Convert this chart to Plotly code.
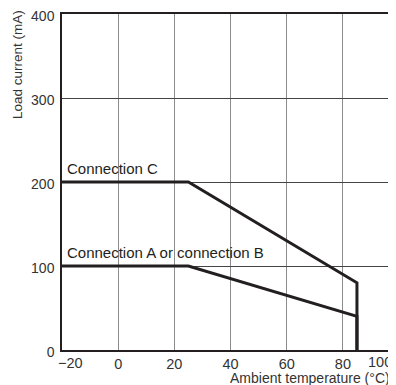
import plotly.graph_objects as go

# Data
temp_c = [-20, 25, 85, 85]
load_c = [200, 200, 80, 0]
temp_ab = [-20, 25, 85, 85]
load_ab = [100, 100, 40, 0]
x_ticks = [-20, 0, 20, 40, 60, 80]
x_ticktext = ["", "0", "20", "40", "60", "80"]
y_ticks = [0, 100, 200, 300, 400]
label_c = "Connection C"
label_ab = "Connection A or connection B"

FONT = "Liberation Sans, Arial, sans-serif"
LINE = "#231f20"
TXT = "#333333"

# The page body has an 8px default margin; compensate so the plot sits where the reference does.
OFF = 8
W, H = 396 - OFF, 385 - OFF
ML, MR, MT, MB = 62 - OFF, 0, 14 - OFF, 35
PW, PH = W - ML - MR, H - MT - MB

def px_to_paper(px, py):
    return (px - OFF - ML) / PW, (H - MB - (py - OFF)) / PH

fig = go.Figure()
fig.add_trace(go.Scatter(x=temp_c, y=load_c, mode="lines",
                         line=dict(color=LINE, width=3), showlegend=False))
fig.add_trace(go.Scatter(x=temp_ab, y=load_ab, mode="lines",
                         line=dict(color=LINE, width=3), showlegend=False))

fig.update_layout(
    width=W, height=H,
    margin=dict(l=ML, r=MR, t=MT, b=MB, autoexpand=False),
    plot_bgcolor="white", paper_bgcolor="white",
    font=dict(family=FONT, size=14, color=TXT),
    xaxis=dict(range=[-20, 98.9], tickvals=x_ticks, ticktext=x_ticktext,
               showgrid=True, gridcolor="#8c8c8c", gridwidth=1,
               showline=True, linecolor=LINE, linewidth=1.5, mirror=True,
               zeroline=False, ticks="", ticklen=0, automargin=False,
               ticklabeloverflow="allow",
               tickfont=dict(size=14.5, color=TXT)),
    yaxis=dict(range=[0, 400], tickvals=y_ticks,
               showgrid=True, gridcolor="#444444", gridwidth=1,
               showline=True, linecolor=LINE, linewidth=1.5,
               zeroline=False, ticks="", ticklen=0, automargin=False,
               ticklabeloverflow="allow", ticklabelshift=2,
               ticklabelstandoff=3,
               tickfont=dict(size=14, color=TXT)),
)

fig.add_annotation(x=-18.8, y=200, xref="x", yref="y", text=label_c,
                   showarrow=False, xanchor="left", yanchor="bottom", yshift=3,
                   font=dict(size=15, color=LINE))
fig.add_annotation(x=-18.8, y=100, xref="x", yref="y", text=label_ab,
                   showarrow=False, xanchor="left", yanchor="bottom", yshift=3,
                   font=dict(size=15, color=LINE))

x, y = px_to_paper(70, 363)
fig.add_annotation(x=x, y=y, xref="paper", yref="paper", text="\u221220",
                   xanchor="center", yanchor="middle",
                   showarrow=False, font=dict(size=14.5, color=TXT))
x, y = px_to_paper(380, 362)
fig.add_annotation(x=x, y=y, xref="paper", yref="paper", text="100",
                   xanchor="center", yanchor="middle",
                   showarrow=False, font=dict(size=14.5, color=TXT))
x, y = px_to_paper(228, 378)
fig.add_annotation(x=x, y=y, xref="paper", yref="paper",
                   text="Ambient temperature (\u00b0C)",
                   xanchor="left", yanchor="middle",
                   showarrow=False, font=dict(size=14, color=TXT))
x, y = px_to_paper(17, 65)
fig.add_annotation(x=x, y=y, xref="paper", yref="paper",
                   text="Load current (mA)", textangle=-90,
                   xanchor="center", yanchor="middle",
                   showarrow=False, font=dict(size=13.5, color=TXT))

fig.write_html("out.html")
